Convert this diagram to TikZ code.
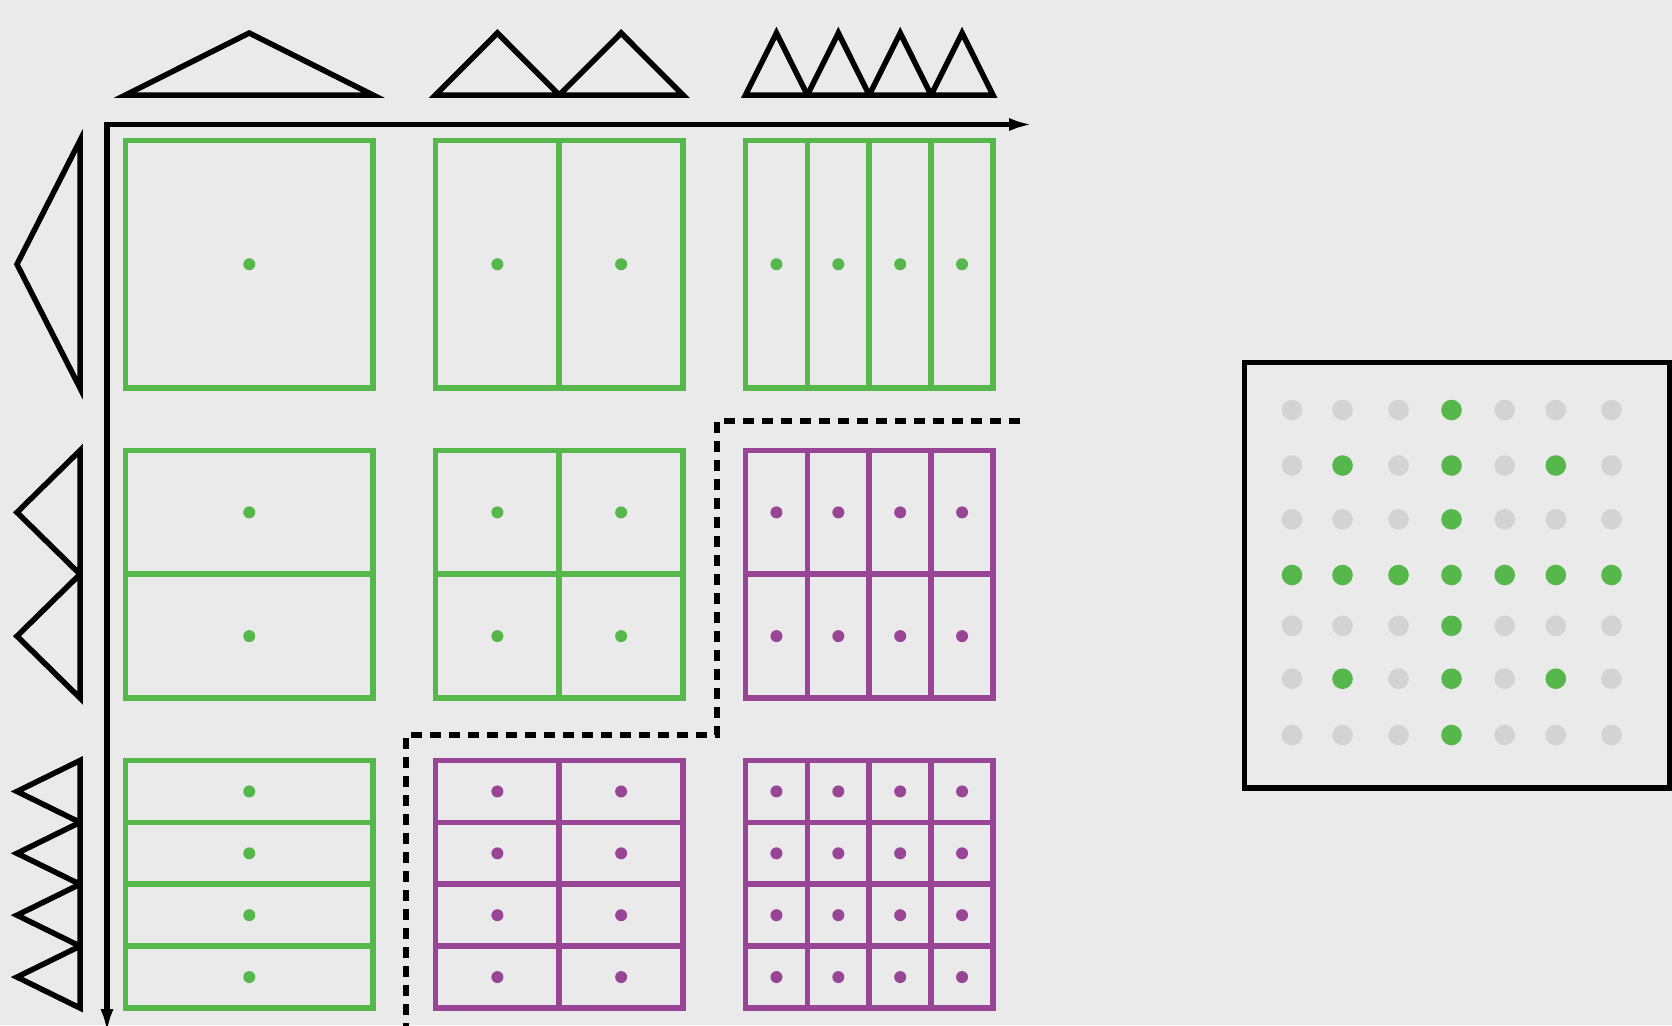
\documentclass[tikz,border=0pt]{standalone}
\usetikzlibrary{arrows.meta}
\definecolor{bgc}{RGB}{234,234,234}
\definecolor{grn}{RGB}{86,184,74}
\definecolor{prp}{RGB}{153,69,150}
\definecolor{lgray}{RGB}{211,211,211}
\begin{document}
\begin{tikzpicture}[x=1pt,y=-1pt,
  tri/.style={draw=black,line width=5.5pt,line join=miter},
  cellbox/.style={line width=5.7pt},
  axisline/.style={draw=black,line width=5.7pt,line join=miter},
  dashline/.style={draw=black,line width=6pt,dash pattern=on 11pt off 8pt},
  panel/.style={draw=black,line width=5.2pt},
]
\fill[bgc] (0,0) rectangle (1672,1025);
\useasboundingbox (0,0) rectangle (1672,1025);

% grid of cell boxes
\foreach \c/\nx in {0/1,1/2,2/4}{
  \foreach \r/\ny in {0/1,1/2,2/4}{
    \pgfmathtruncatemacro\prodn{\nx*\ny}
    \ifnum\prodn>4 \def\col{prp}\else\def\col{grn}\fi
    \pgfmathsetmacro\bx{125.5+310*\c}
    \pgfmathsetmacro\by{140.5+310*\r}
    \pgfmathsetmacro\cw{247.5/\nx}
    \pgfmathsetmacro\ch{247.5/\ny}
    \foreach \i in {1,...,\nx}{
      \foreach \j in {1,...,\ny}{
        \pgfmathsetmacro\xa{\bx+(\i-1)*\cw}
        \pgfmathsetmacro\ya{\by+(\j-1)*\ch}
        \draw[cellbox,draw=\col] (\xa,\ya) rectangle ++(\cw,\ch);
        \fill[\col] (\xa+\cw/2,\ya+\ch/2) circle[radius=6pt];
      }
    }
  }
}

% top triangles
\foreach \c/\n in {0/1,1/2,2/4}{
  \pgfmathsetmacro\bx{125.5+310*\c}
  \pgfmathsetmacro\tw{247.5/\n}
  \foreach \k in {1,...,\n}{
    \pgfmathsetmacro\xl{\bx+(\k-1)*\tw}
    \draw[tri] (\xl,95) -- (\xl+\tw/2,33) -- (\xl+\tw,95) -- cycle;
  }
}

% left triangles
\foreach \r/\n in {0/1,1/2,2/4}{
  \pgfmathsetmacro\by{140.5+310*\r}
  \pgfmathsetmacro\th{247.5/\n}
  \foreach \k in {1,...,\n}{
    \pgfmathsetmacro\yt{\by+(\k-1)*\th}
    \draw[tri] (80,\yt) -- (17,\yt+\th/2) -- (80,\yt+\th) -- cycle;
  }
}

% axes
\coordinate (axbot) at (107,1034);
\coordinate (axcorner) at (107,124.5);
\coordinate (axright) at (1034,124.5);
\draw[axisline,{Latex[length=25pt,width=13pt]}-{Latex[length=25pt,width=13pt]}] (axbot) -- (axcorner) -- (axright);

% dashed boundary
\coordinate (d1) at (1020,421.3);
\coordinate (d2) at (716.5,421.3);
\coordinate (d3) at (716.5,735);
\coordinate (d4) at (406,735);
\coordinate (d5) at (406,1030);
\draw[dashline] (d1) -- (d2) -- (d3) -- (d4) -- (d5);

% right panel
\draw[panel] (1244.5,362.5) rectangle (1669.5,788);
\def\xs{{1292,1342.5,1398.5,1451.5,1504.7,1555.8,1611.5}}
\def\ys{{410,465.5,519.3,575,625.8,678.7,735}}
\foreach \i in {0,...,6}{
  \foreach \j in {0,...,6}{
    \pgfmathsetmacro\px{\xs[\i]}
    \pgfmathsetmacro\py{\ys[\j]}
    \def\dc{lgray}
    \ifnum\i=3 \def\dc{grn}\fi
    \ifnum\j=3 \def\dc{grn}\fi
    \ifnum\i=1 \ifnum\j=1 \def\dc{grn}\fi \ifnum\j=5 \def\dc{grn}\fi \fi
    \ifnum\i=5 \ifnum\j=1 \def\dc{grn}\fi \ifnum\j=5 \def\dc{grn}\fi \fi
    \fill[\dc] (\px,\py) circle[radius=10.3pt];
  }
}
\end{tikzpicture}
\end{document}
